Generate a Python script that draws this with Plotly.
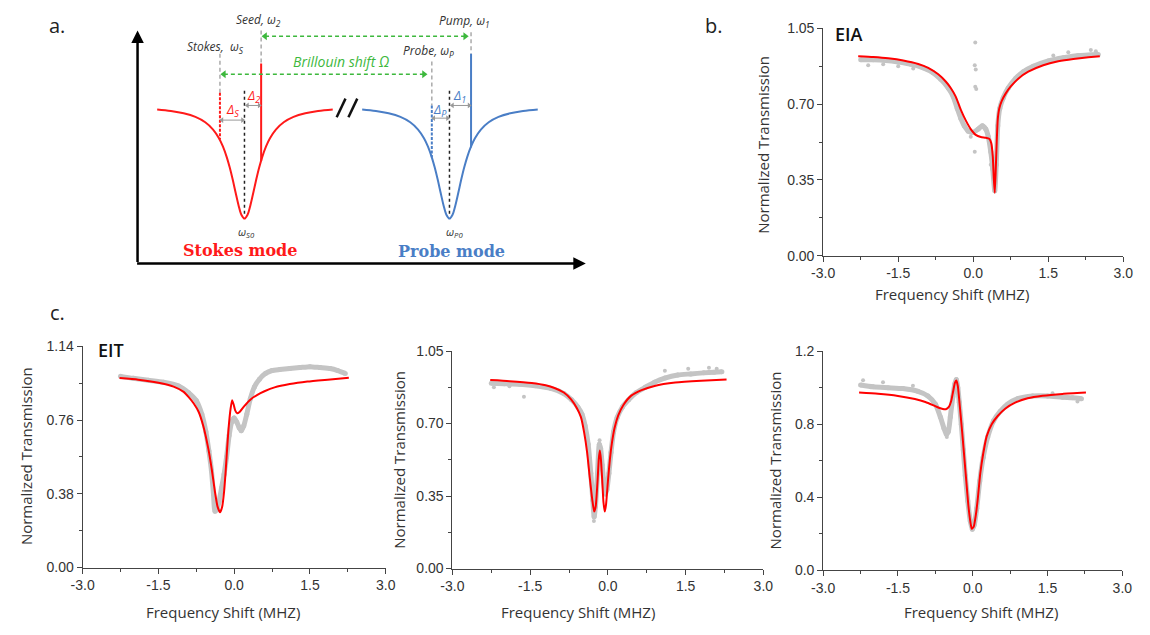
import plotly.graph_objects as go

W, H = 1150, 635

# ---------------- data: panel b (EIA) ----------------
eia_fit_x = [-2.3, -2.0, -1.7, -1.4, -1.1, -0.9, -0.7, -0.55, -0.45, -0.35, -0.25, -0.15, -0.05, 0.05, 0.15, 0.25,
             0.32, 0.36, 0.39, 0.41, 0.43, 0.45, 0.47, 0.49, 0.52, 0.57, 0.65, 0.75, 0.9, 1.1, 1.4, 1.7, 2.0, 2.3, 2.53]
eia_fit_y = [0.922, 0.918, 0.912, 0.902, 0.886, 0.868, 0.838, 0.805, 0.775, 0.735, 0.675, 0.625, 0.585, 0.558, 0.548, 0.545,
             0.54, 0.52, 0.46, 0.36, 0.29, 0.40, 0.53, 0.63, 0.68, 0.715, 0.75, 0.782, 0.818, 0.85, 0.88, 0.898, 0.909, 0.917, 0.922]
eia_data_x = [-2.25, -2.0, -1.75, -1.5, -1.25, -1.0, -0.8, -0.65, -0.5, -0.4, -0.32, -0.25, -0.18, -0.1, 0.0, 0.1, 0.18,
              0.25, 0.3, 0.35, 0.39, 0.43, 0.46, 0.49, 0.53, 0.6, 0.7, 0.85, 1.0, 1.2, 1.5, 1.8, 2.1, 2.5]
eia_data_y = [0.905, 0.905, 0.902, 0.895, 0.885, 0.868, 0.845, 0.815, 0.775, 0.735, 0.68, 0.635, 0.6, 0.575, 0.57, 0.585, 0.6,
              0.585, 0.55, 0.48, 0.4, 0.3, 0.42, 0.6, 0.68, 0.73, 0.775, 0.82, 0.85, 0.875, 0.9, 0.915, 0.925, 0.93]
eia_out_x = [0.04, 0.03, 0.05, 0.04, 0.06, 0.03, 0.35, -0.05, 2.35, 1.9, -2.1, -1.8, -1.5, -1.2, 2.45, 1.6]
eia_out_y = [0.985, 0.88, 0.86, 0.78, 0.77, 0.48, 0.42, 0.55, 0.95, 0.94, 0.88, 0.885, 0.875, 0.865, 0.945, 0.925]

# ---------------- data: panel c1 (EIT) ----------------
eit1_fit_x = [-2.27, -1.9, -1.5, -1.2, -1.0, -0.9, -0.8, -0.7, -0.61, -0.51, -0.44, -0.38, -0.33, -0.28, -0.24, -0.2,
              -0.17, -0.14, -0.11, -0.07, -0.04, -0.01, 0.02, 0.06, 0.1, 0.2, 0.32, 0.46, 0.6, 0.8, 1.1, 1.45, 1.85, 2.27]
eit1_fit_y = [0.976, 0.968, 0.952, 0.932, 0.905, 0.878, 0.845, 0.8, 0.728, 0.61, 0.5, 0.39, 0.315, 0.285, 0.31, 0.39,
              0.49, 0.61, 0.72, 0.82, 0.862, 0.84, 0.81, 0.795, 0.8, 0.832, 0.865, 0.89, 0.908, 0.928, 0.945, 0.958, 0.968, 0.978]
eit1_data_x = [-2.25, -2.0, -1.7, -1.4, -1.1, -0.9, -0.75, -0.64, -0.56, -0.5, -0.45, -0.41, -0.38, -0.34, -0.3, -0.25,
               -0.2, -0.15, -0.1, -0.05, 0.0, 0.05, 0.1, 0.14, 0.19, 0.25, 0.32, 0.4, 0.5, 0.62, 0.75, 0.9, 1.1, 1.3,
               1.5, 1.7, 1.9, 2.05, 2.2]
eit1_data_y = [0.985, 0.975, 0.965, 0.955, 0.935, 0.9, 0.86, 0.79, 0.7, 0.6, 0.5, 0.38, 0.29, 0.3, 0.34, 0.41,
               0.48, 0.57, 0.68, 0.75, 0.77, 0.75, 0.72, 0.705, 0.73, 0.79, 0.87, 0.93, 0.97, 1.0, 1.015, 1.02, 1.025, 1.03,
               1.035, 1.03, 1.025, 1.015, 1.0]

# ---------------- data: panel c2 ----------------
eit2_fit_x = [-2.27, -1.9, -1.47, -1.2, -1.03, -0.85, -0.71, -0.6, -0.52, -0.46, -0.4, -0.35, -0.3, -0.265, -0.235,
              -0.2, -0.175, -0.155, -0.135, -0.11, -0.085, -0.06, -0.035, 0.0, 0.04, 0.08, 0.13, 0.2, 0.3, 0.45, 0.65,
              0.9, 1.3, 1.8, 2.29]
eit2_fit_y = [0.91, 0.905, 0.896, 0.885, 0.872, 0.85, 0.817, 0.775, 0.731, 0.66, 0.56, 0.44, 0.33, 0.275, 0.3,
              0.42, 0.53, 0.57, 0.53, 0.43, 0.32, 0.275, 0.31, 0.42, 0.53, 0.61, 0.68, 0.74, 0.79, 0.835, 0.862,
              0.882, 0.898, 0.907, 0.913]
eit2_data_x = [-2.25, -2.0, -1.7, -1.4, -1.1, -0.85, -0.7, -0.58, -0.5, -0.44, -0.38, -0.33, -0.29, -0.265, -0.24, -0.2,
               -0.165, -0.14, -0.11, -0.08, -0.05, -0.02, 0.02, 0.06, 0.11, 0.18, 0.28, 0.4, 0.55, 0.72, 0.9, 1.1, 1.35,
               1.6, 1.85, 2.05, 2.2]
eit2_data_y = [0.895, 0.893, 0.89, 0.883, 0.87, 0.845, 0.815, 0.78, 0.745, 0.69, 0.6, 0.46, 0.33, 0.25, 0.3, 0.46,
               0.6, 0.58, 0.5, 0.42, 0.36, 0.38, 0.46, 0.56, 0.66, 0.73, 0.78, 0.815, 0.85, 0.875, 0.9, 0.92, 0.935,
               0.94, 0.945, 0.948, 0.95]
eit2_out_x = [-1.62, 1.1, 1.55, 1.95, 2.1, -0.16, -0.27, -2.2, -1.9]
eit2_out_y = [0.83, 0.955, 0.965, 0.97, 0.965, 0.62, 0.23, 0.875, 0.88]

# ---------------- data: panel c3 ----------------
eit3_fit_x = [-2.28, -1.9, -1.5, -1.16, -0.95, -0.8, -0.68, -0.6, -0.54, -0.48, -0.43, -0.39, -0.36, -0.33, -0.3, -0.27,
              -0.24, -0.21, -0.17, -0.13, -0.09, -0.05, -0.02, 0.02, 0.06, 0.1, 0.15, 0.21, 0.28, 0.38, 0.5, 0.65, 0.85,
              1.1, 1.4, 1.8, 2.27]
eit3_fit_y = [0.973, 0.967, 0.955, 0.938, 0.922, 0.905, 0.89, 0.883, 0.882, 0.895, 0.93, 0.985, 1.025, 1.039, 1.01, 0.93,
              0.84, 0.75, 0.62, 0.49, 0.36, 0.27, 0.228, 0.24, 0.3, 0.39, 0.53, 0.64, 0.735, 0.8, 0.845, 0.885, 0.918,
              0.942, 0.956, 0.966, 0.973]
eit3_data_x = [-2.25, -2.0, -1.7, -1.4, -1.1, -0.9, -0.75, -0.65, -0.58, -0.53, -0.49, -0.45, -0.4, -0.36, -0.33, -0.3,
               -0.27, -0.23, -0.19, -0.15, -0.1, -0.05, -0.01, 0.03, 0.08, 0.14, 0.21, 0.3, 0.42, 0.55, 0.7, 0.9, 1.2,
               1.5, 1.8, 2.0, 2.18]
eit3_data_y = [1.015, 1.005, 1.0, 0.995, 0.98, 0.955, 0.91, 0.84, 0.78, 0.745, 0.76, 0.84, 0.95, 1.02, 1.045, 1.0,
               0.92, 0.8, 0.66, 0.52, 0.38, 0.27, 0.225, 0.25, 0.34, 0.49, 0.62, 0.73, 0.82, 0.87, 0.91, 0.94, 0.955,
               0.955, 0.948, 0.945, 0.94]
eit3_out_x = [-2.2, -1.8, -1.2, -0.52, 2.1, 1.6]
eit3_out_y = [1.04, 1.03, 1.01, 0.73, 0.925, 0.97]

# ---------------- data: panel a (schematic, arbitrary units) ----------------
schem_offset = [-89, -75, -62, -50, -40, -32, -26, -22, -18, -15, -12, -9, -6, -3, 0,
                3, 6, 9, 12, 15, 18, 22, 26, 32, 40, 50, 62, 75, 90]
schem_profile = [104.2, 105.7, 108.0, 111.7, 117.2, 124.7, 133.6, 142.0, 153.2, 163.7, 176.0, 189.5, 202.5, 212.3, 216.0,
                 212.3, 202.5, 189.5, 176.0, 163.7, 153.2, 142.0, 133.6, 124.7, 117.2, 111.7, 108.0, 105.7, 104.1]
stokes_center = 237
probe_center = 446

RED = '#ff1a1a'
BLUE = '#4a7ec6'
GREEN = '#3db83d'
GRAY_DATA = '#c4c4c4'

fig = go.Figure()

def px(x):
    return x / W

def py(y):
    return 1 - y / H

# ---------- schematic traces ----------
def seg(xs, ys, color, width=1.5, dash='solid', markers=None, msize=7):
    if markers:
        kw = dict(mode='lines+markers', marker=dict(symbol=markers, size=msize, color=color))
    else:
        kw = dict(mode='lines')
    fig.add_trace(go.Scatter(x=xs, y=ys, xaxis='x', yaxis='y', line=dict(color=color, width=width, dash=dash),
                             hoverinfo='skip', **kw))

fig.add_trace(go.Scatter(x=[stokes_center + d for d in schem_offset], y=schem_profile, xaxis='x', yaxis='y',
                         mode='lines', line=dict(color=RED, width=2, shape='spline'), hoverinfo='skip'))
fig.add_trace(go.Scatter(x=[probe_center + d for d in schem_offset], y=schem_profile, xaxis='x', yaxis='y',
                         mode='lines', line=dict(color=BLUE, width=2, shape='spline'), hoverinfo='skip'))

# vertical markers
seg([212, 212], [47, 87], '#aaaaaa', 1.5, '4px,3px')
seg([212, 212], [87, 135], RED, 2, '3px,1.5px')
seg([254, 254], [23, 57], '#aaaaaa', 1.5, '4px,3px')
seg([254, 254], [57, 157], RED, 2)
seg([428, 428], [55, 100], '#aaaaaa', 1.5, '4px,3px')
seg([428, 428], [100, 153], BLUE, 2, '3px,1.5px')
seg([468, 468], [25, 47], '#aaaaaa', 1.5, '4px,3px')
seg([468, 468], [47, 143], BLUE, 2)
seg([stokes_center, stokes_center], [85, 214], '#222222', 1.5, 'dot')
seg([probe_center, probe_center], [85, 214], '#222222', 1.5, 'dot')
# Brillouin shift arrows
seg([258, 462], [29, 29], GREEN, 1.6, '4px,3px', ['triangle-left', 'triangle-right'], 7)
seg([216, 420], [68, 68], GREEN, 1.6, '4px,3px', ['triangle-left', 'triangle-right'], 7)
# detuning arrows
seg([214, 235], [115, 115], '#999999', 1, 'solid', ['triangle-left', 'triangle-right'], 5)
seg([240, 252], [100, 100], '#999999', 1, 'solid', ['triangle-left', 'triangle-right'], 5)
seg([430, 444], [113, 113], '#999999', 1, 'solid', ['triangle-left', 'triangle-right'], 5)
seg([449, 466], [100, 100], '#999999', 1, 'solid', ['triangle-left', 'triangle-right'], 5)
# break symbol
seg([331, 340], [112, 93], '#111111', 2.5)
seg([343, 352], [112, 93], '#111111', 2.5)

# ---------- data panels ----------
panels = [
    ('x2', 'y2', eia_data_x, eia_data_y, eia_out_x, eia_out_y, eia_fit_x, eia_fit_y),
    ('x3', 'y3', eit1_data_x, eit1_data_y, [], [], eit1_fit_x, eit1_fit_y),
    ('x4', 'y4', eit2_data_x, eit2_data_y, eit2_out_x, eit2_out_y, eit2_fit_x, eit2_fit_y),
    ('x5', 'y5', eit3_data_x, eit3_data_y, eit3_out_x, eit3_out_y, eit3_fit_x, eit3_fit_y),
]
for xa, ya, dx, dy, ox, oy, fx, fy in panels:
    fig.add_trace(go.Scatter(x=dx, y=dy, xaxis=xa, yaxis=ya, mode='lines+markers',
                             line=dict(color=GRAY_DATA, width=5, shape='spline', smoothing=0.6),
                             marker=dict(color=GRAY_DATA, size=5), hoverinfo='skip'))
    if ox:
        fig.add_trace(go.Scatter(x=ox, y=oy, xaxis=xa, yaxis=ya, mode='markers',
                                 marker=dict(color=GRAY_DATA, size=4), hoverinfo='skip'))
    fig.add_trace(go.Scatter(x=fx, y=fy, xaxis=xa, yaxis=ya, mode='lines',
                             line=dict(color='#ff0000', width=2, shape='spline', smoothing=0.5), hoverinfo='skip'))

TICKFONT = dict(family='Liberation Sans, Arial', size=14, color='#333333')

def xaxis_style(dom, anchor):
    return dict(domain=dom, anchor=anchor, range=[-3, 3], tickvals=[-3, -1.5, 0, 1.5, 3],
                ticktext=['-3.0', '-1.5', '0.0', '1.5', '3.0'], ticks='outside', ticklen=5, tickwidth=1,
                tickcolor='#444444', showline=True, linecolor='#444444', linewidth=1, showgrid=False,
                zeroline=False, tickfont=TICKFONT, fixedrange=True,
                minor=dict(tickvals=[-2.25, -0.75, 0.75, 2.25], ticks='outside', ticklen=3, tickcolor='#444444'))

def yaxis_style(dom, anchor, top, tickvals, ticktext, minor):
    return dict(domain=dom, anchor=anchor, range=[0, top], tickvals=tickvals, ticktext=ticktext,
                ticks='outside', ticklen=5, tickwidth=1, tickcolor='#444444', showline=True, linecolor='#444444',
                linewidth=1, showgrid=False, zeroline=False, tickfont=TICKFONT, fixedrange=True,
                minor=dict(tickvals=minor, ticks='outside', ticklen=3, tickcolor='#444444'))

layout = dict(
    width=W, height=H, margin=dict(l=0, r=0, t=0, b=0), paper_bgcolor='white', plot_bgcolor='white',
    showlegend=False, hovermode=False,
    xaxis=dict(domain=[0, px(600)], anchor='y', range=[0, 600], visible=False, fixedrange=True),
    yaxis=dict(domain=[py(280), 1], anchor='x', range=[280, 0], visible=False, fixedrange=True),
    xaxis2=xaxis_style([px(827), px(1133)], 'y2'),
    yaxis2=yaxis_style([py(254), py(21)], 'x2', 1.05, [0, 0.35, 0.70, 1.05], ['0.00', '0.35', '0.70', '1.05'],
                       [0.175, 0.525, 0.875]),
    xaxis3=xaxis_style([px(72), px(381)], 'y3'),
    yaxis3=yaxis_style([py(574), py(347)], 'x3', 1.14, [0, 0.38, 0.76, 1.14], ['0.00', '0.38', '0.76', '1.14'],
                       [0.19, 0.57, 0.95]),
    xaxis4=xaxis_style([px(449), px(766)], 'y4'),
    yaxis4=yaxis_style([py(575), py(352)], 'x4', 1.05, [0, 0.35, 0.70, 1.05], ['0.00', '0.35', '0.70', '1.05'],
                       [0.175, 0.525, 0.875]),
    xaxis5=xaxis_style([px(827), px(1132)], 'y5'),
    yaxis5=yaxis_style([py(577), py(352)], 'x5', 1.2, [0, 0.4, 0.8, 1.2], ['0.0', '0.4', '0.8', '1.2'],
                       [0.2, 0.6, 1.0]),
)
fig.update_layout(**layout)

ann = []
TITLEFONT = dict(family='Open Sans, Noto Sans', size=15, color='#333333')

def paper_text(x, y, text, font, angle=0):
    ann.append(dict(x=px(x), y=py(y), xref='paper', yref='paper', text=text, showarrow=False, font=font,
                    textangle=angle, xanchor='center', yanchor='middle'))

# axis titles
for (cx, cy) in [(766, 140), (15, 460), (395, 463), (778, 464)]:
    paper_text(cx, cy, 'Normalized Transmission', TITLEFONT, -90)
for (cx, cy) in [(958, 293), (215, 620), (577, 620), (988, 620)]:
    paper_text(cx, cy, 'Frequency Shift (MHZ)', TITLEFONT)

# panel letters and labels
LETTER = dict(family='Open Sans, Noto Sans', size=20, color='#222222')
paper_text(46, 18, 'a.', LETTER)
paper_text(716, 18, 'b.', LETTER)
paper_text(46, 312, 'c.', LETTER)
LBL = dict(family='Open Sans, Noto Sans', size=18, color='#111111', weight=600)
paper_text(853, 27, 'EIA', LBL)
paper_text(101, 351, 'EIT', LBL)

# schematic annotations (schematic coordinates)
def sch_text(x, y, text, color='#333333', size=12, family='Open Sans, Noto Sans'):
    ann.append(dict(x=x, y=y, xref='x', yref='y', text=text, showarrow=False,
                    font=dict(family=family, size=size, color=color), xanchor='center', yanchor='middle'))

sch_text(251, 12, '<i>Seed, ω<sub>2</sub></i>')
sch_text(461, 13, '<i>Pump, ω<sub>1</sub></i>')
sch_text(207, 40, '<i>Stokes,  ω<sub>S</sub></i>')
sch_text(425, 44, '<i>Probe, ω<sub>P</sub></i>')
sch_text(335, 55, '<i>Brillouin shift Ω</i>', GREEN, 14)
sch_text(225, 105, '<i>Δ<sub>S</sub></i>', RED, 13)
sch_text(246, 90, '<i>Δ<sub>2</sub></i>', RED, 13)
sch_text(436, 105, '<i>Δ<sub>P</sub></i>', BLUE, 13)
sch_text(456, 90, '<i>Δ<sub>1</sub></i>', BLUE, 13)
sch_text(239, 230, '<i>ω<sub>S0</sub></i>', '#333333', 11)
sch_text(451, 230, '<i>ω<sub>P0</sub></i>', '#333333', 11)
sch_text(232, 249, '<b>Stokes mode</b>', RED, 16, 'DejaVu Serif')
sch_text(448, 250, '<b>Probe mode</b>', BLUE, 16, 'DejaVu Serif')

# schematic axes arrows
ann.append(dict(x=128, y=23, ax=128, ay=262, xref='x', yref='y', axref='x', ayref='y', text='', showarrow=True,
                arrowhead=2, arrowsize=1, arrowwidth=2.5, arrowcolor='#000000'))
ann.append(dict(x=585, y=262, ax=126, ay=262, xref='x', yref='y', axref='x', ayref='y', text='', showarrow=True,
                arrowhead=2, arrowsize=1, arrowwidth=2.5, arrowcolor='#000000'))

fig.update_layout(annotations=ann)
fig.write_html('out.html', config={'displayModeBar': False, 'staticPlot': True},
               post_script="document.body.style.margin='0';document.body.style.padding='0';"
                           "document.body.style.overflow='hidden';")
